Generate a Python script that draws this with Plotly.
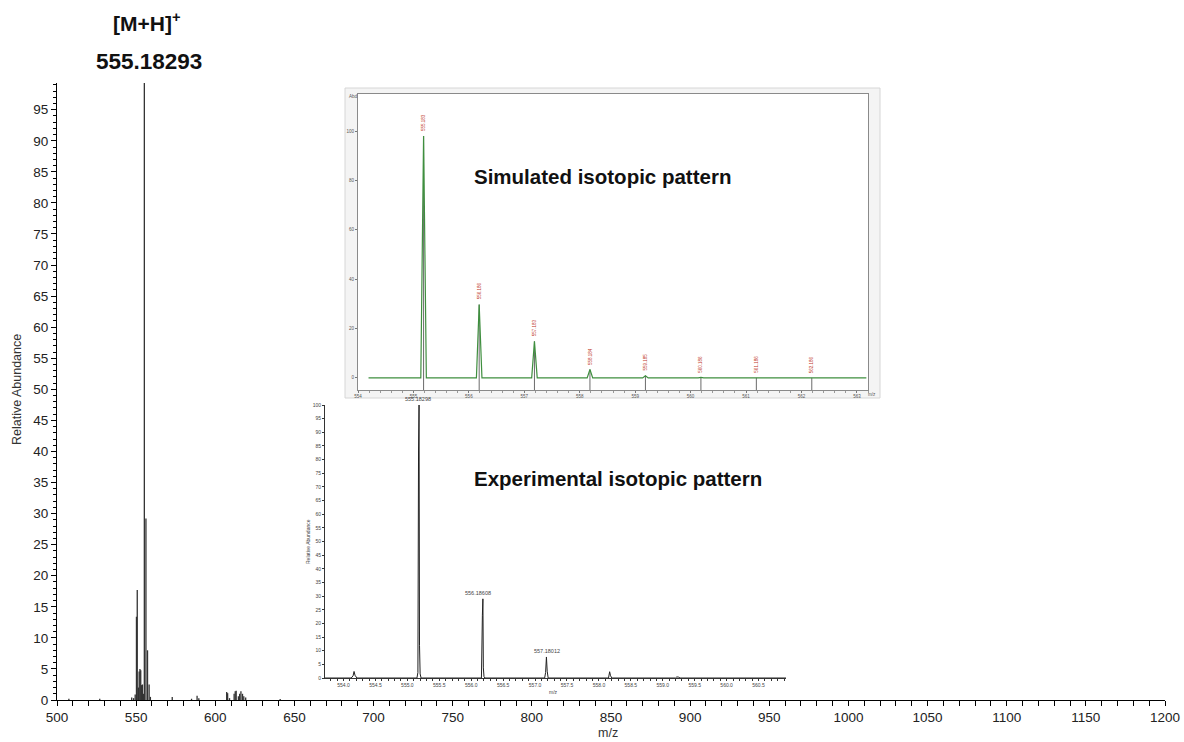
import plotly.graph_objects as go

# ---------------- data ----------------
# main full-scan spectrum (stick peaks)
main_mz = [507.5, 527.0, 547.2, 548.4, 549.4, 550.2, 550.7, 551.4, 551.9, 552.4, 552.9,
           553.4, 554.0, 554.6, 555.18, 556.19, 557.19, 558.2, 559.0, 572.8, 585.0, 588.5,
           589.6, 607.2, 607.8, 609.0, 611.9, 612.6, 613.2, 614.6, 615.4, 616.2, 617.2,
           618.0, 619.2, 641.0]
main_int = [0.2, 0.2, 0.4, 0.3, 0.9, 13.4, 17.7, 2.0, 4.6, 5.0, 4.8,
            2.4, 2.5, 1.0, 100.0, 29.2, 8.0, 2.5, 0.5, 0.5, 0.2, 0.7,
            0.3, 1.3, 1.1, 0.3, 1.0, 1.4, 1.5, 0.6, 1.0, 1.4, 1.0,
            0.6, 0.4, 0.15]

# simulated isotopic pattern
sim_mz = [555.183, 556.186, 557.183, 558.184, 559.185, 560.186, 561.186, 562.186]
sim_int = [98.0, 29.7, 14.8, 3.4, 0.9, 0.2, 0.05, 0.01]
sim_labels = ["555.183", "556.186", "557.183", "558.184", "559.185", "560.186", "561.186", "562.186"]
sim_baseline = [554.19, 563.17]

# experimental isotopic pattern (profile points)
exp_mz = [553.71, 554.12, 554.15, 554.165, 554.18, 554.21,
          555.15, 555.165, 555.175, 555.183, 555.19, 555.20, 555.215,
          556.16, 556.175, 556.183, 556.19, 556.20, 556.215,
          557.15, 557.165, 557.178, 557.19, 557.205,
          558.15, 558.168, 558.18, 558.20,
          559.20, 559.22, 559.25, 559.27, 560.93]
exp_int = [0, 0, 0.8, 2.4, 1.0, 0,
           0, 2.0, 83.5, 100, 12, 1.5, 0,
           0, 23, 29, 3.7, 0.5, 0,
           0, 2.0, 7.7, 2.5, 0,
           0, 2.3, 1.0, 0,
           0, 0.4, 0.3, 0, 0]
exp_label_mz = [555.16, 556.11, 557.18]
exp_label_int = [100, 29, 7.7]
exp_labels = ["555.18298", "556.18608", "557.18012"]

main_xticks = list(range(500, 1201, 50))
main_yticks = list(range(0, 96, 5))

# ---------------- geometry helpers ----------------
W, H = 1184, 742
L, R, T, B = 57, 1165, 83, 700


def px(x):
    return (x - L) / (R - L)


def py(y):
    return (B - y) / (B - T)


FONT = "Liberation Sans, Arial, sans-serif"

fig = go.Figure()

# main spectrum sticks
sx, sy = [], []
for m, v in zip(main_mz, main_int):
    sx += [m, m, None]
    sy += [0, v, None]
fig.add_trace(go.Scatter(x=sx, y=sy, mode="lines", line=dict(color="#333333", width=1.3),
                         hoverinfo="skip", showlegend=False, xaxis="x", yaxis="y"))

# simulated pattern: sticks + green profile
SIM_YMIN, SIM_YMAX = -4.9, 115
kx, ky = [], []
for m, v in zip(sim_mz, sim_int):
    kx += [m, m, None]
    ky += [SIM_YMIN, v, None]
fig.add_trace(go.Scatter(x=kx, y=ky, mode="lines", line=dict(color="#6b6b6b", width=1),
                         hoverinfo="skip", showlegend=False, xaxis="x2", yaxis="y2"))
gx, gy = [sim_baseline[0]], [0]
for m, v in zip(sim_mz, sim_int):
    gx += [m - 0.05, m, m + 0.05]
    gy += [0, v, 0]
gx.append(sim_baseline[1])
gy.append(0)
fig.add_trace(go.Scatter(x=gx, y=gy, mode="lines", line=dict(color="#3f8f3f", width=1.2),
                         hoverinfo="skip", showlegend=False, xaxis="x2", yaxis="y2"))

# experimental profile
fig.add_trace(go.Scatter(x=exp_mz, y=exp_int, mode="lines", line=dict(color="#222222", width=1),
                         hoverinfo="skip", showlegend=False, xaxis="x3", yaxis="y3"))

small_tick = dict(family=FONT, size=4.5, color="#555555")

fig.update_layout(
    width=W, height=H, autosize=False,
    margin=dict(l=L, r=W - R, t=T, b=H - B, pad=0, autoexpand=False),
    paper_bgcolor="white", plot_bgcolor="white",
    font=dict(family=FONT, color="#222222"),
    showlegend=False,
    xaxis=dict(domain=[0, 1], range=[500, 1200], tickvals=main_xticks, automargin=False,
               ticks="outside", ticklen=5, tickcolor="black", tickwidth=1,
               showline=True, linecolor="black", linewidth=1, showgrid=False, zeroline=False,
               tickfont=dict(family=FONT, size=13.5, color="#222222"), ticklabeloverflow="allow",
               minor=dict(dtick=10, tick0=500, ticks="outside", ticklen=5, tickcolor="black", showgrid=False)),
    yaxis=dict(domain=[0, 1], range=[0, 99.3], tickvals=main_yticks, automargin=False,
               ticks="outside", ticklen=5, tickcolor="black", tickwidth=1,
               showline=True, linecolor="black", linewidth=1, showgrid=False, zeroline=False,
               tickfont=dict(family=FONT, size=13.5, color="#222222"),
               minor=dict(dtick=1, tick0=0, ticks="outside", ticklen=3, tickcolor="black", showgrid=False)),
    xaxis2=dict(domain=[px(358), px(868)], anchor="y2", range=[554.0, 563.2], dtick=1, tick0=555,
                automargin=False,
                ticks="outside", ticklen=2, tickcolor="#777777", showline=True, mirror=True,
                linecolor="#8a8a8a", linewidth=1, showgrid=False, zeroline=False, tickfont=small_tick,
                minor=dict(dtick=0.2, tick0=555, ticks="outside", ticklen=1.5, tickcolor="#999999", showgrid=False)),
    yaxis2=dict(domain=[py(390), py(94)], anchor="x2", range=[SIM_YMIN, SIM_YMAX], automargin=False,
                tickvals=[0, 20, 40, 60, 80, 100], ticks="outside", ticklen=2, tickcolor="#777777",
                showline=True, mirror=True, linecolor="#8a8a8a", linewidth=1, showgrid=False,
                zeroline=False, tickfont=small_tick),
    xaxis3=dict(domain=[px(325), px(786)], anchor="y3", range=[553.71, 560.93], dtick=0.5, tick0=554,
                automargin=False,
                tickformat=".1f", ticks="outside", ticklen=2, tickcolor="#333333", showline=True,
                linecolor="#333333", linewidth=1, showgrid=False, zeroline=False,
                tickfont=dict(family=FONT, size=5, color="#444444"),
                minor=dict(dtick=0.1, tick0=554, ticks="outside", ticklen=1.5, tickcolor="#333333", showgrid=False)),
    yaxis3=dict(domain=[py(678), py(405)], anchor="x3", range=[0, 100], dtick=5, tick0=0,
                automargin=False,
                ticks="outside", ticklen=2, tickcolor="#333333", showline=True, linecolor="#333333",
                linewidth=1, showgrid=False, zeroline=False,
                tickfont=dict(family=FONT, size=5, color="#444444")),
)

# inset frame and cream background
fig.add_shape(type="rect", xref="paper", yref="paper", x0=px(345), x1=px(880), y0=py(398), y1=py(88),
              fillcolor="#f4f4f4", line=dict(color="#d6d6d6", width=1), layer="below")
fig.add_shape(type="rect", xref="paper", yref="paper", x0=px(358), x1=px(868), y0=py(390), y1=py(94),
              fillcolor="#fffff4", line=dict(width=0), layer="below")

ann = []
# main titles
ann.append(dict(text="<b>[M+H]<sup>+</sup></b>", x=px(147), y=py(22), font=dict(size=21, color="#111111")))
ann.append(dict(text="<b>555.18293</b>", x=px(148.5), y=py(61), font=dict(size=22.5, color="#111111")))
ann.append(dict(text="<b>Simulated isotopic pattern</b>", x=px(602.5), y=py(176), font=dict(size=20.5, color="#111111")))
ann.append(dict(text="<b>Experimental isotopic pattern</b>", x=px(617.5), y=py(479), font=dict(size=20.5, color="#111111")))
ann.append(dict(text="m/z", x=px(608), y=py(733), font=dict(size=12.5, color="#333333")))
ann.append(dict(text="Relative Abundance", x=px(17), y=py(390), textangle=-90, font=dict(size=12.5, color="#333333")))
# inset 2 axis labels
ann.append(dict(text="Abd", x=px(353), y=py(96), font=dict(size=4.5, color="#555555")))
ann.append(dict(text="m/z", x=px(872), y=py(395), font=dict(size=4.5, color="#555555")))
# inset 3 axis labels
ann.append(dict(text="m/z", x=px(553), y=py(692), font=dict(size=5, color="#444444")))
ann.append(dict(text="Relative Abundance", x=px(308), y=py(542), textangle=-90, font=dict(size=5, color="#444444")))
for a in ann:
    a.update(xref="paper", yref="paper", showarrow=False, xanchor="center", yanchor="middle")
    a["font"]["family"] = FONT

# red peak labels on simulated pattern
for m, v, t in zip(sim_mz, sim_int, sim_labels):
    ann.append(dict(text=t, x=m, y=max(v, 0), xref="x2", yref="y2", showarrow=False,
                    textangle=-90, xanchor="center", yanchor="bottom", yshift=3,
                    font=dict(family=FONT, size=4.5, color="#c0392b")))
# experimental peak labels
for m, v, t in zip(exp_label_mz, exp_label_int, exp_labels):
    ann.append(dict(text=t, x=m, y=v, xref="x3", yref="y3", showarrow=False,
                    xanchor="center", yanchor="bottom", yshift=1,
                    font=dict(family=FONT, size=5.5, color="#444444")))

fig.update_layout(annotations=ann)

fig.write_html("out.html")
